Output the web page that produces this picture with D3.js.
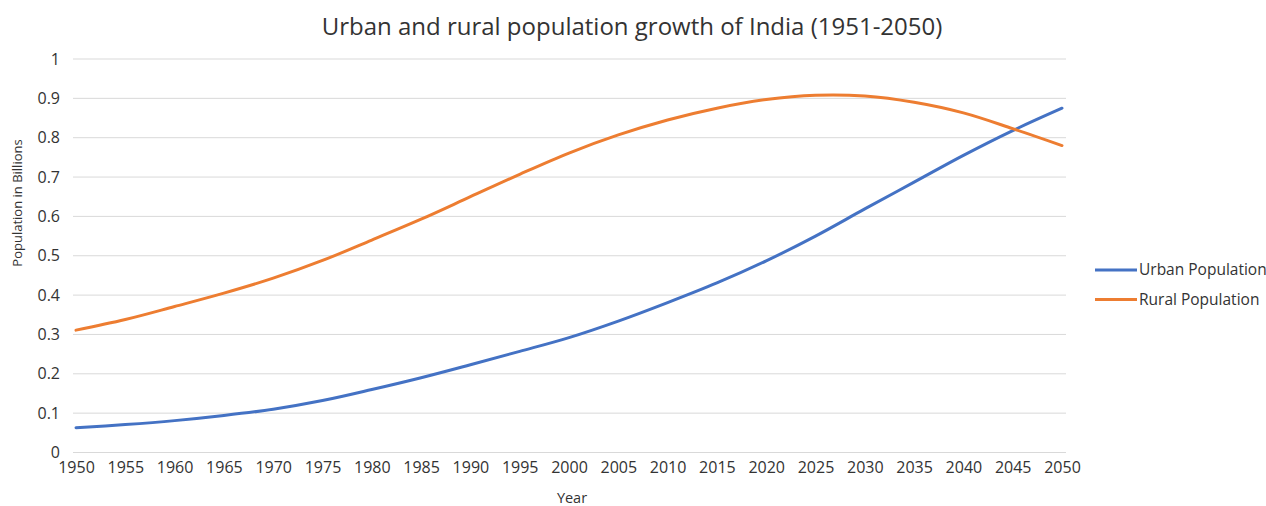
<!DOCTYPE html>
<html>
<head>
<meta charset="utf-8">
<script src="https://cdn.jsdelivr.net/npm/d3@7"></script>
<style>
  body { margin: 0; background: #fff; }
  svg text { font-family: "Open Sans", sans-serif; fill: #333; }
</style>
</head>
<body>
<svg id="chart" width="1266" height="506"></svg>
<script>
// five-yearly readings, billions
var years = [1950, 1955, 1960, 1965, 1970, 1975, 1980, 1985, 1990, 1995, 2000,
             2005, 2010, 2015, 2020, 2025, 2030, 2035, 2040, 2045, 2050];
var urban = [0.063, 0.071, 0.081, 0.094, 0.110, 0.132, 0.160, 0.190, 0.223, 0.257, 0.292,
             0.334, 0.381, 0.431, 0.487, 0.550, 0.619, 0.687, 0.755, 0.818, 0.875];
var rural = [0.311, 0.338, 0.371, 0.405, 0.443, 0.488, 0.540, 0.593, 0.650, 0.707, 0.761,
             0.807, 0.845, 0.875, 0.897, 0.908, 0.906, 0.890, 0.863, 0.823, 0.780];
var yTicks = [0, 0.1, 0.2, 0.3, 0.4, 0.5, 0.6, 0.7, 0.8, 0.9, 1];
var seriesNames = ["Urban Population", "Rural Population"];

var svg = d3.select("#chart");
var color = d3.scaleOrdinal(seriesNames, ["#4472c4", "#ed7d31"]);

var x = d3.scaleLinear().domain([1950, 2050]).range([76, 1062]);
var y = d3.scaleLinear().domain([0, 1]).range([452.5, 59]);

svg.append("text")
    .attr("x", 632).attr("y", 35)
    .attr("text-anchor", "middle")
    .style("font-size", "24px")
    .text("Urban and rural population growth of India (1951-2050)");

// horizontal gridlines
svg.append("g").selectAll("line")
    .data(yTicks)
    .enter().append("line")
    .attr("x1", x(1950) - 3).attr("x2", x(2050) + 4)
    .attr("y1", d => y(d)).attr("y2", d => y(d))
    .attr("stroke", "#d9d9d9").attr("stroke-width", 1);

var yAxis = svg.append("g")
    .attr("transform", "translate(60,0)")
    .call(d3.axisLeft(y).tickValues(yTicks).tickSize(0).tickPadding(0).tickFormat(d3.format("")));
yAxis.select(".domain").remove();
yAxis.selectAll("text").style("font-size", "16px").attr("fill", "#333");

var xAxis = svg.append("g")
    .attr("transform", "translate(0,462)")
    .call(d3.axisBottom(x).tickValues(d3.range(1950, 2051, 5)).tickSize(0).tickPadding(0).tickFormat(d3.format("d")));
xAxis.select(".domain").remove();
xAxis.selectAll("text").style("font-size", "16px").attr("fill", "#333");

svg.append("text")
    .attr("x", 572).attr("y", 503)
    .attr("text-anchor", "middle")
    .style("font-size", "14.5px")
    .text("Year");

svg.append("text")
    .attr("transform", "translate(22,203) rotate(-90)")
    .attr("text-anchor", "middle")
    .style("font-size", "13px")
    .text("Population in Billions");

var line = d3.line()
    .x(d => x(d[0]))
    .y(d => y(d[1]))
    .curve(d3.curveCatmullRom.alpha(0.5));

var series = [
  {k: seriesNames[0], vals: years.map((yr, i) => [yr, urban[i]])},
  {k: seriesNames[1], vals: years.map((yr, i) => [yr, rural[i]])}
];

svg.append("g").selectAll("path")
    .data(series)
    .enter().append("path")
    .attr("d", d => line(d.vals))
    .attr("fill", "none")
    .attr("stroke", d => color(d.k))
    .attr("stroke-width", 3)
    .attr("stroke-linecap", "round");

var legend = svg.append("g").selectAll("g")
    .data(seriesNames)
    .enter().append("g")
    .attr("transform", (d, i) => "translate(1095," + (270 + i * 29.5) + ")");

legend.append("line")
    .attr("x1", 0).attr("x2", 42)
    .attr("stroke", d => color(d))
    .attr("stroke-width", 3);

legend.append("text")
    .attr("x", 44)
    .attr("dy", "0.35em")
    .style("font-size", "15.5px")
    .text(d => d);
</script>
</body>
</html>
